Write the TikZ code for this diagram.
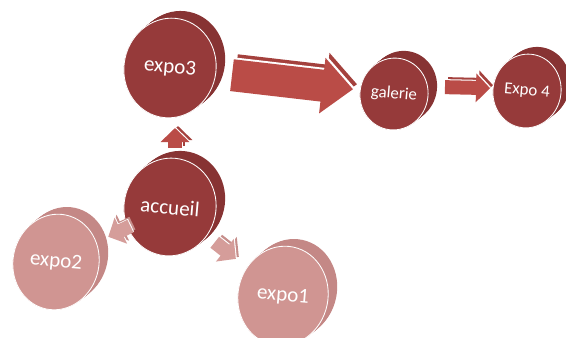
\documentclass[tikz,border=0pt]{standalone}
\usepackage{fontspec}
\setmainfont{Carlito}
\usetikzlibrary{arrows.meta}
\definecolor{diskred}{HTML}{963A3A}
\definecolor{diskredside}{HTML}{873333}
\definecolor{diskpink}{HTML}{D09592}
\definecolor{diskpinkside}{HTML}{C48886}
\definecolor{arrowred}{HTML}{BA4C47}
\definecolor{arrowredside}{HTML}{A4413D}
\definecolor{arrowpink}{HTML}{D59D9A}
\definecolor{arrowpinkside}{HTML}{C68E8B}

% one 3D disk: name, x, y, x radius, y radius, colour, font size, label
\newcommand{\expodisk}[8]{%
  \foreach \t in {0,0.1,...,1}
    \fill[#6side, rotate around={-12:(#2+10*\t,#3-8*\t)}] (#2+10*\t,#3-8*\t) ellipse [x radius=#4, y radius=#5];
  \filldraw[fill=#6, draw=white, line width=1.2pt, rotate around={-12:(#2,#3)}] (#2,#3) ellipse [x radius=#4, y radius=#5];
  \node[disklabel, font=\fontsize{#7}{#7}\selectfont] (#1) at (#2,#3) {#8};
}

\begin{document}
\begin{tikzpicture}[x=0.5mm,y=-0.5mm,
  disklabel/.style={text=white, inner sep=0pt, rotate=-5},
  bigarrow/.style={line width=16mm, -{Triangle[width=27mm,length=15.5mm]}},
  smallarrow/.style={line width=7mm, -{Triangle[width=14mm,length=7mm]}}]
\useasboundingbox (0,0) rectangle (566,338);

% disks
\expodisk{expo3}{170}{68}{46}{50}{diskred}{30}{expo3}
\expodisk{galerie}{394}{94}{34}{36}{diskred}{24}{galerie}
\expodisk{expofour}{527}{91}{34}{37}{diskred}{24}{Expo 4}
\expodisk{accueil}{170}{207}{46}{49}{diskred}{30}{accueil}
\expodisk{expotwo}{56}{262}{43}{48}{diskpink}{30}{expo2}
\expodisk{expoone}{283}{296}{45}{50}{diskpink}{30}{expo1}

% arrows
\foreach \dx/\dy/\c in {2mm/2.5mm/arrowredside, 0.7mm/0.9mm/white, 0mm/0mm/arrowred}
  \draw[bigarrow, color=\c, transform canvas={shift={(\dx,\dy)}}, shorten <=31.2mm, shorten >=20.6mm] (expo3.center) -- (galerie.center);
\foreach \dx/\dy/\c in {1.5mm/1.5mm/arrowredside, 0.5mm/0.5mm/white, 0mm/0mm/arrowred}
  \draw[smallarrow, color=\c, transform canvas={shift={(\dx,\dy)}}, shorten <=25.5mm, shorten >=18.5mm] ([yshift=4mm]galerie.center) -- ([yshift=1mm]expofour.center);
\foreach \dx/\dy/\c in {1.5mm/1mm/arrowredside, 0.5mm/0.3mm/white, 0mm/0mm/arrowred}
  \draw[smallarrow, color=\c, transform canvas={shift={(\dx,\dy)}}, shorten <=29.5mm, shorten >=30mm] ([xshift=2.5mm]accueil.center) -- ([xshift=2.5mm]expo3.center);
\foreach \dx/\dy/\c in {1mm/1.5mm/arrowpinkside, 0.3mm/0.5mm/white, 0mm/0mm/arrowpink}
  \draw[smallarrow, color=\c, transform canvas={shift={(\dx,\dy)}}, shorten <=22mm, shorten >=29mm] (accueil.center) -- (expotwo.center);
\foreach \dx/\dy/\c in {1.5mm/1mm/arrowpinkside, 0.5mm/0.3mm/white, 0mm/0mm/arrowpink}
  \draw[smallarrow, color=\c, transform canvas={shift={(\dx,\dy)}}, shorten <=28.5mm, shorten >=30mm] (accueil.center) -- (expoone.center);
\end{tikzpicture}
\end{document}
